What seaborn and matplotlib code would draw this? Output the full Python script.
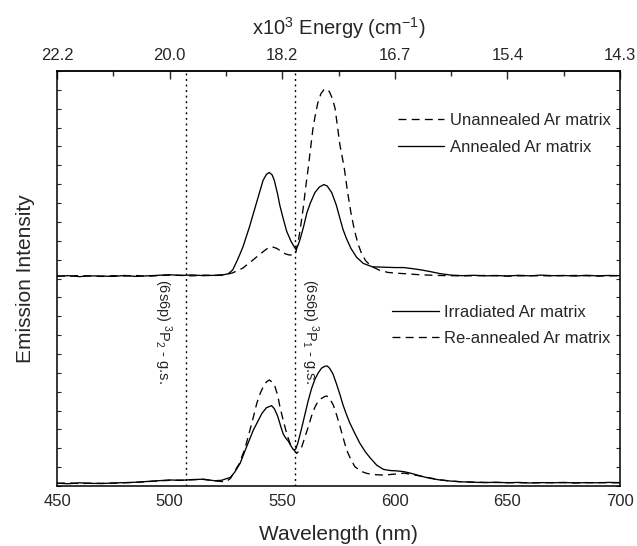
import matplotlib
matplotlib.use("Agg")
import matplotlib.pyplot as plt
import seaborn as sns

# ---- spectra (wavelength in nm, intensity in arbitrary offset units) ----
annealed_wl = [450, 455, 460, 465, 470, 475, 480, 485, 490, 495, 500, 505, 510, 515, 520, 524,
               526, 528, 530, 532.5, 535.5, 538.5, 541.5, 543, 544.2, 545.5, 546.5, 548, 549,
               550.5, 552, 554, 556, 557, 558, 559.5, 561, 562.5, 564.5, 566.5, 568.5, 570,
               572, 574, 575.7, 577, 578.6, 580.5, 583, 586, 590, 595, 600, 604, 608, 612,
               616, 620, 625, 630, 635, 640, 645, 650, 655, 660, 665, 670, 675, 680, 685,
               690, 695, 700]
annealed_I = [11.12, 11.15, 11.10, 11.14, 11.13, 11.11, 11.16, 11.11, 11.14, 11.17, 11.20, 11.16,
              11.19, 11.15, 11.17, 11.20, 11.25, 11.45, 11.95, 12.65, 13.75, 14.98, 16.20, 16.52,
              16.62, 16.50, 16.20, 15.45, 14.85, 14.15, 13.50, 12.95, 12.55, 12.75, 13.10, 13.75,
              14.50, 15.00, 15.55, 15.85, 15.98, 15.90, 15.55, 14.90, 14.16, 13.60, 13.10, 12.60,
              12.13, 11.80, 11.62, 11.60, 11.58, 11.58, 11.52, 11.45, 11.36, 11.26, 11.18, 11.15,
              11.17, 11.14, 11.16, 11.13, 11.17, 11.14, 11.18, 11.15, 11.16, 11.13, 11.17, 11.14,
              11.16, 11.15]

unannealed_wl = [450, 455, 460, 465, 470, 475, 480, 485, 490, 495, 500, 505, 510, 515, 520, 524,
                 528, 532.5, 537, 541.5, 543.5, 545.5, 547.5, 549.5, 551.5, 553, 555, 556, 557,
                 558, 559.4, 560.5, 561.6, 562.6, 563.6, 564.6, 565.8, 567.2, 568.5, 569.8, 571,
                 572.4, 573.5, 574.5, 575.6, 577.5, 579, 580.5, 582, 583.5, 585, 587, 589.5, 593,
                 597, 601, 605, 611, 615, 620, 625, 630, 640, 650, 660, 670, 680, 690, 700]
unannealed_I = [11.14, 11.12, 11.16, 11.13, 11.11, 11.15, 11.13, 11.16, 11.12, 11.15, 11.18, 11.17,
                11.14, 11.18, 11.16, 11.18, 11.30, 11.55, 11.98, 12.42, 12.60, 12.68, 12.60, 12.45,
                12.30, 12.25, 12.24, 12.35, 12.90, 13.60, 14.80, 15.90, 16.90, 17.90, 18.90, 19.60,
                20.30, 20.80, 21.00, 21.05, 20.90, 20.50, 20.00, 19.10, 18.10, 16.90, 15.60, 14.50,
                13.60, 12.90, 12.40, 11.95, 11.65, 11.45, 11.32, 11.28, 11.25, 11.20, 11.18, 11.16,
                11.15, 11.14, 11.16, 11.13, 11.15, 11.14, 11.16, 11.13, 11.15]

irradiated_wl = [450, 455, 460, 465, 470, 475, 480, 485, 490, 495, 500, 505, 510, 515, 520, 523,
                 525.5, 527, 529, 531.3, 534.2, 537.2, 539.5, 541, 543, 545.3, 546.5, 548, 549.5,
                 550.5, 551.5, 552.7, 554, 555, 556, 557, 558.5, 560, 561.5, 563, 564.5, 566,
                 567.5, 569, 570, 571, 572.5, 574, 575.5, 577, 578.5, 580, 582, 584.5, 587, 589,
                 592, 595, 598, 601, 604, 607, 610, 613, 616, 620, 625, 630, 635, 640, 645, 650,
                 655, 660, 665, 670, 675, 680, 685, 690, 695, 700]
irradiated_I = [0.15, 0.12, 0.17, 0.14, 0.13, 0.16, 0.18, 0.20, 0.24, 0.28, 0.32, 0.30, 0.34, 0.36,
                0.28, 0.30, 0.40, 0.45, 0.75, 1.20, 2.08, 2.97, 3.50, 3.85, 4.15, 4.26, 4.10, 3.70,
                3.10, 2.75, 2.55, 2.38, 2.10, 1.92, 1.95, 2.30, 3.00, 3.75, 4.50, 5.15, 5.65, 6.00,
                6.25, 6.35, 6.36, 6.25, 5.95, 5.45, 4.90, 4.30, 3.80, 3.35, 2.85, 2.26, 1.80, 1.50,
                1.10, 0.88, 0.82, 0.80, 0.76, 0.68, 0.58, 0.48, 0.40, 0.32, 0.26, 0.22, 0.20, 0.18,
                0.20, 0.17, 0.19, 0.16, 0.18, 0.17, 0.19, 0.16, 0.18, 0.17, 0.19, 0.18]

reannealed_wl = [450, 455, 460, 465, 470, 475, 480, 485, 490, 495, 500, 505, 510, 515, 520, 525,
                 527, 529, 531, 533.5, 535.7, 537.3, 538.7, 540.2, 541.6, 543, 544.3, 545.6,
                 546.8, 548, 549, 550.1, 551.2, 552.3, 553.5, 555, 556.4, 557.5, 558.7, 560.1,
                 561.6, 563, 564.6, 566, 567.5, 569, 569.8, 571, 572.7, 574.2, 575.7, 577.2,
                 578.6, 580.5, 582.3, 585, 587.5, 591, 595, 600, 604, 608, 612.6, 616, 620, 625,
                 630, 640, 650, 660, 670, 680, 690, 700]
reannealed_I = [0.14, 0.16, 0.13, 0.15, 0.14, 0.15, 0.17, 0.19, 0.23, 0.27, 0.30, 0.31, 0.33, 0.35,
                0.27, 0.22, 0.40, 0.80, 1.20, 2.00, 2.97, 3.70, 4.38, 4.90, 5.27, 5.52, 5.62, 5.50,
                5.27, 4.80, 4.20, 3.65, 3.14, 2.65, 2.26, 1.95, 1.73, 1.85, 2.08, 2.60, 3.14, 3.70,
                4.20, 4.50, 4.65, 4.75, 4.77, 4.65, 4.29, 3.75, 3.14, 2.50, 1.91, 1.40, 1.02, 0.78,
                0.67, 0.60, 0.58, 0.63, 0.68, 0.60, 0.50, 0.42, 0.33, 0.26, 0.22, 0.19, 0.18, 0.17,
                0.18, 0.17, 0.18, 0.17]

# transition markers and their labels
transition_wl = [507.3, 555.8]
transition_labels = [r"(6s6p) $^{3}$P$_{2}$ - g.s.", r"(6s6p) $^{3}$P$_{1}$ - g.s."]
transition_label_x = [497.0, 562.4]
transition_label_y = 8.2

# axis ticks
wl_ticks = [450, 500, 550, 600, 650, 700]
wl_minor = [475, 525, 575, 625, 675]
energy_labels = ["22.2", "20.0", "18.2", "16.7", "15.4", "14.3"]

sns.set_style("white")
plt.rcParams["font.family"] = ["Liberation Sans", "DejaVu Sans"]
plt.rcParams["mathtext.fontset"] = "custom"
plt.rcParams["mathtext.rm"] = "Liberation Sans"
plt.rcParams["mathtext.it"] = "Liberation Sans:italic"
plt.rcParams["mathtext.bf"] = "Liberation Sans:bold"
plt.rcParams["xtick.direction"] = "in"
plt.rcParams["ytick.direction"] = "in"

fig = plt.figure(figsize=(6.37, 5.46), dpi=100)
ax = fig.add_axes([57 / 637, 60 / 546, 563 / 637, 415 / 546])

LW = 0.95
DASH = (6, 4)

def trace(x, y, dashed, label):
    kw = dict(x=x, y=y, ax=ax, color="black", linewidth=LW, estimator=None, label=label)
    sns.lineplot(**kw)
    line = ax.lines[-1]
    if dashed:
        line.set_dashes(DASH)
    return line

h_unann = trace(unannealed_wl, unannealed_I, True, "Unannealed Ar matrix")
h_ann = trace(annealed_wl, annealed_I, False, "Annealed Ar matrix")
h_irr = trace(irradiated_wl, irradiated_I, False, "Irradiated Ar matrix")
h_rean = trace(reannealed_wl, reannealed_I, True, "Re-annealed Ar matrix")

for wl in transition_wl:
    ax.axvline(wl, color="black", linewidth=1.0, dashes=(1.4, 2.6))
for lx, txt in zip(transition_label_x, transition_labels):
    ax.text(lx, transition_label_y, txt, rotation=-90, ha="center", va="center", fontsize=10.5)

ax.set_xlim(450, 700)
ax.set_ylim(0, 22)

ax.set_xticks(wl_ticks)
ax.set_xticks(wl_minor, minor=True)
ax.set_yticks(range(0, 23))
ax.set_yticklabels([])
ax.tick_params(axis="x", which="major", length=6, width=1.0, labelsize=12, pad=6, top=False)
ax.tick_params(axis="x", which="minor", length=3.5, width=1.0, top=False)
ax.tick_params(axis="y", which="major", length=3, width=0.8, left=True, right=True)
for s in ax.spines.values():
    s.set_linewidth(1.1)
    s.set_color("black")

top = ax.secondary_xaxis("top")
top.set_xticks(wl_ticks, labels=energy_labels)
top.set_xticks(wl_minor, minor=True)
top.tick_params(axis="x", which="major", length=6, width=1.0, labelsize=12, pad=6, direction="in")
top.tick_params(axis="x", which="minor", length=3.5, width=1.0, direction="in")
top.spines["top"].set_linewidth(1.1)
top.set_xlabel(r"x10$^{3}$ Energy (cm$^{-1}$)", fontsize=14.5, labelpad=9)

ax.set_xlabel("Wavelength (nm)", fontsize=15, labelpad=11)
ax.set_ylabel("Emission Intensity", fontsize=15, labelpad=12)

leg_kw = dict(frameon=False, fontsize=12, handlelength=2.8, handletextpad=0.35,
              labelspacing=0.7, borderpad=0, borderaxespad=0, loc="upper left")
leg1 = ax.legend([h_unann, h_ann], ["Unannealed Ar matrix", "Annealed Ar matrix"],
                 bbox_to_anchor=(0.605, 0.898), **leg_kw)
ax.add_artist(leg1)
ax.legend([h_irr, h_rean], ["Irradiated Ar matrix", "Re-annealed Ar matrix"],
          bbox_to_anchor=(0.595, 0.437), **leg_kw)

fig.savefig("out.png", dpi=100)
